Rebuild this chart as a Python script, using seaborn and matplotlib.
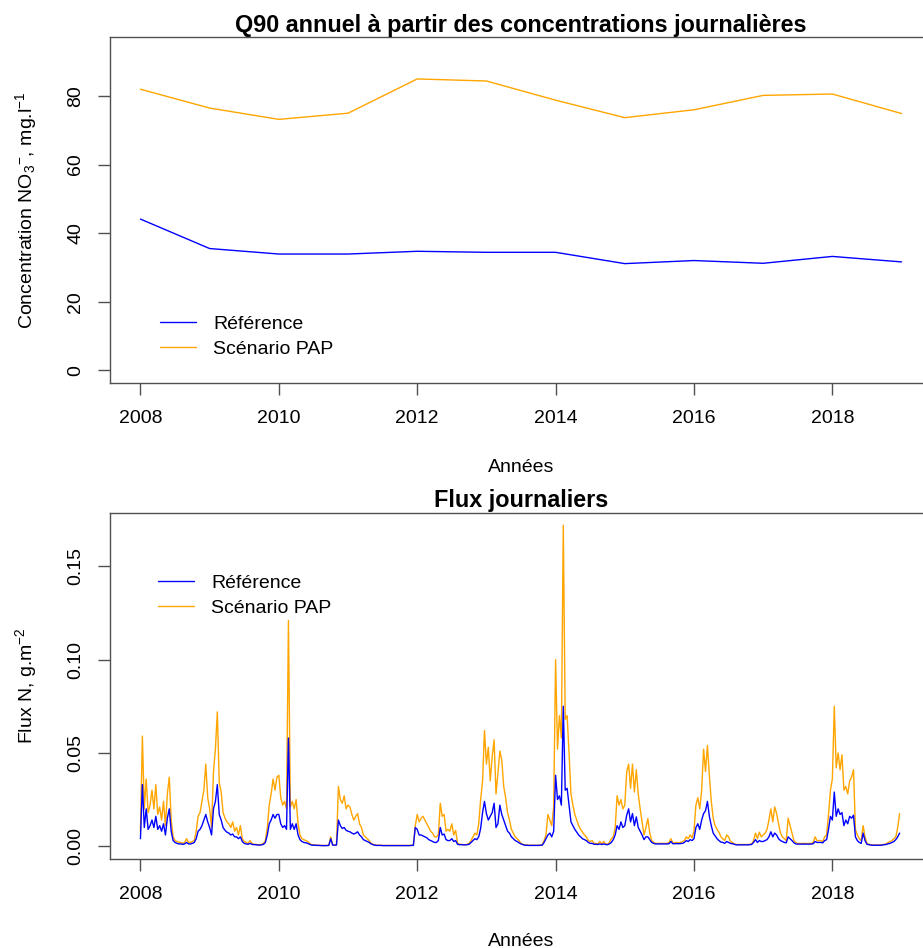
import matplotlib
matplotlib.use("Agg")
import matplotlib.pyplot as plt
import pandas as pd
import seaborn as sns

# ---- Annual Q90 of daily nitrate concentrations (mg/l) ----
years = list(range(2008, 2020))
q90_reference = [44.1, 35.5, 33.9, 33.9, 34.7, 34.4, 34.4, 31.1, 32.0, 31.2, 33.2, 31.6]
q90_pap = [82.0, 76.5, 73.2, 75.0, 85.0, 84.4, 78.8, 73.7, 76.0, 80.2, 80.6, 74.9]

# ---- Daily N flux (mg/m2, i.e. g/m2 x 1000), 36 readings per year ----
steps_per_year = 36
flux_years = list(range(2008, 2019))
flux_pap_mg = [
    # 2008
    8, 59, 20, 36, 18, 22, 30, 20, 33, 17, 21, 14, 24, 11, 28, 37, 14, 5, 3, 2.5, 2, 2, 1.5, 2, 4, 2, 2, 2.5, 3, 8, 16, 18, 24, 30, 44, 26,
    # 2009
    20, 10, 40, 52, 72, 34, 29, 18, 15, 13, 12, 10, 13, 8, 10, 6, 11, 4, 2.5, 2, 1.5, 3, 1.5, 1, 1, 0.8, 0.8, 1, 1.5, 3, 10, 22, 28, 36, 30, 37,
    # 2010
    38, 26, 22, 24, 20, 121, 21, 24, 20, 25, 12, 6, 4, 3.5, 3, 2.5, 1.5, 0.8, 0.7, 0.6, 0.5, 0.5, 0.4, 0.4, 0.4, 0.4, 0.5, 5, 0.8, 0.6, 0.8, 32, 25, 23, 27, 20,
    # 2011
    22, 21, 17, 14, 16, 17.5, 12, 10, 6, 5, 4, 3, 1.5, 1, 0.6, 0.5, 0.5, 0.5, 0.4, 0.4, 0.4, 0.4, 0.4, 0.4, 0.4, 0.4, 0.4, 0.4, 0.4, 0.4, 0.4, 0.4, 0.4, 0.5, 0.5, 11,
    # 2012
    17, 13, 15, 16, 14, 12, 10, 8, 7, 5, 5, 6, 23, 16, 17, 8, 9, 8, 12, 6, 8.5, 1.5, 1, 1, 0.8, 0.8, 1, 1.5, 3, 5, 7, 6, 12, 25, 35, 62,
    # 2013
    44, 53, 35, 48, 57, 28, 39, 51, 46, 32, 26, 18, 14, 9, 7, 5, 4, 3, 1.5, 1, 0.7, 0.6, 0.5, 0.5, 0.5, 0.5, 0.5, 0.5, 0.6, 0.7, 3, 6, 17, 14, 11, 21,
    # 2014
    100, 52, 70, 58, 172, 68, 70, 50, 28, 22, 17, 14, 11, 9, 7.5, 6, 5, 3, 2.5, 3, 1.5, 1.5, 1.2, 2.5, 1.2, 2.5, 1.2, 1, 2, 4, 5, 10, 27, 22, 25, 20,
    # 2015
    22, 40, 44, 31, 44, 29, 41, 28, 20, 13, 6, 10, 14.8, 7, 3, 2, 1.5, 1.5, 1.5, 1.5, 1.5, 1.5, 1.5, 2, 4, 1.8, 1.8, 2, 1.8, 2, 2.5, 3, 5, 4, 6, 4.5,
    # 2016
    8, 22, 26, 20, 30, 52, 40, 54, 38, 24, 15, 11, 9, 7.5, 5, 4, 3, 6, 5, 2.5, 2, 1.2, 0.9, 0.9, 0.9, 0.9, 0.9, 0.9, 0.9, 1, 1.2, 3, 7, 4, 7.5, 5,
    # 2017
    6, 7, 9, 14, 20, 13, 21, 17.5, 12, 7, 5, 4, 3, 15, 11, 7, 3, 1.8, 1.5, 1.5, 1.4, 1.5, 1.5, 1.4, 1.5, 1.5, 2, 5, 3, 3, 3, 2.5, 5, 6, 17, 30,
    # 2018
    36, 75, 42, 50, 41, 49, 30, 32, 28, 35, 37, 41, 9, 6, 4, 3, 11, 5, 1.5, 1, 0.8, 0.7, 0.6, 0.6, 0.6, 0.7, 0.8, 1, 1.2, 2, 2.5, 3, 4, 5, 10, 17.5,
]
flux_reference_mg = [
    # 2008
    4, 33, 10, 20, 9, 11, 14, 10, 16, 9, 11, 8, 12, 6, 15, 20, 8, 3, 2, 1.5, 1.2, 1.2, 1, 1.2, 2, 1.2, 1.2, 1.5, 2, 4, 8, 9, 11, 14, 17, 13,
    # 2009
    10, 6, 20, 24, 33, 17, 14, 10, 8.5, 7.5, 7, 6, 6.5, 5, 5, 4, 5, 2.5, 1.5, 1.2, 1, 1.5, 1, 0.8, 0.8, 0.6, 0.6, 0.7, 1, 2, 6, 12, 14, 17, 15, 17,
    # 2010
    17, 12, 10, 11, 9, 58, 9, 12, 9, 12, 6, 3.5, 2.5, 2, 1.8, 1.5, 1, 0.6, 0.5, 0.5, 0.4, 0.4, 0.3, 0.3, 0.3, 0.3, 0.4, 4, 0.6, 0.5, 0.6, 14, 11, 9.5, 10, 8.5,
    # 2011
    8, 7.7, 7, 6.5, 7, 7.7, 6, 5, 3.5, 3, 2.5, 2, 1.2, 0.8, 0.5, 0.4, 0.4, 0.4, 0.3, 0.3, 0.3, 0.3, 0.3, 0.3, 0.3, 0.3, 0.3, 0.3, 0.3, 0.3, 0.3, 0.3, 0.3, 0.4, 0.4, 10,
    # 2012
    9, 6, 6, 5.5, 5, 4.5, 3.5, 3, 2.5, 2, 2, 3, 10, 6, 6.5, 3.5, 3, 3, 4, 2.5, 3, 1, 0.8, 0.8, 0.7, 0.7, 0.8, 1, 2, 3, 4, 3.5, 5, 9.5, 18, 24,
    # 2013
    17.5, 14, 16, 18, 23, 10, 12, 22, 17, 14, 11, 8, 7, 5, 4, 3, 2.5, 1.8, 1.2, 0.8, 0.5, 0.5, 0.4, 0.4, 0.4, 0.4, 0.4, 0.4, 0.5, 0.5, 2, 4, 6, 7, 5, 8,
    # 2014
    38, 25, 27, 22, 75, 30, 31, 22, 13, 11, 9, 7.5, 6, 5, 4, 3.5, 3, 2, 1.5, 1.5, 1, 1, 0.9, 1.2, 0.9, 1.2, 0.9, 0.8, 1.2, 2, 3.5, 6, 11, 9, 13, 10,
    # 2015
    11, 16.6, 20, 13, 17.5, 11, 15.7, 10, 8, 6, 3.5, 5, 5, 3.5, 2, 1.5, 1.2, 1.2, 1.2, 1.2, 1.2, 1.2, 1.2, 1.3, 2.5, 1.3, 1.3, 1.4, 1.3, 1.4, 1.5, 2, 3, 2.5, 3.5, 3,
    # 2016
    4, 10, 12, 9, 14, 17.5, 19, 24, 16, 11, 7, 5.5, 4, 3, 2.2, 2, 1.5, 2.5, 2, 1.5, 1.3, 1, 0.7, 0.7, 0.7, 0.7, 0.7, 0.7, 0.7, 0.8, 0.9, 2, 3.5, 2, 3, 2.5,
    # 2017
    2.5, 3, 3.5, 5, 7.7, 5, 7, 6, 4, 3, 2.5, 2, 1.8, 5, 4, 3, 1.8, 1.2, 1.1, 1.1, 1.1, 1.1, 1.1, 1.1, 1.1, 1.1, 1.3, 2.5, 2, 2, 2, 1.8, 3, 3.5, 9, 16,
    # 2018
    14, 29, 16, 20, 17, 18, 11, 14, 12, 16, 15, 16.6, 5, 3, 2, 1.5, 7, 3, 1, 0.8, 0.6, 0.5, 0.5, 0.5, 0.5, 0.5, 0.6, 0.8, 0.9, 1.3, 1.5, 2, 2.5, 3.5, 5, 7,
]

legend_labels = ["Référence", "Scénario PAP"]
line_colors = ["blue", "orange"]

# ---- tables ----
q90 = pd.DataFrame({"annee": years, "ref": q90_reference, "pap": q90_pap})
flux_time = [y + k / steps_per_year for y in flux_years for k in range(steps_per_year)]
flux = pd.DataFrame({
    "t": flux_time,
    "ref": [v / 1000 for v in flux_reference_mg],
    "pap": [v / 1000 for v in flux_pap_mg],
})

# ---- style ----
sns.set_theme(style="ticks")
plt.rcParams["font.family"] = ["Liberation Sans", "DejaVu Sans"]
plt.rcParams["mathtext.fontset"] = "custom"
plt.rcParams["mathtext.rm"] = "Liberation Sans"
plt.rcParams["mathtext.it"] = "Liberation Sans:italic"
plt.rcParams["mathtext.bf"] = "Liberation Sans:bold"
plt.rcParams["text.color"] = "black"
plt.rcParams["axes.labelcolor"] = "black"
plt.rcParams["axes.titlecolor"] = "black"

W, H = 923, 948
fig = plt.figure(figsize=(W / 100, H / 100), dpi=100)
ax1 = fig.add_axes([110 / W, 1 - 383 / H, 822 / W, 346 / H])
ax2 = fig.add_axes([110 / W, 1 - 859 / H, 822 / W, 346.5 / H])

frame_color = "#505050"


def r_like_axes(ax, yticks, yticklabels):
    for s in ax.spines.values():
        s.set_color(frame_color)
        s.set_linewidth(1.0)
    ax.set_xticks(range(2008, 2019, 2))
    ax.set_xticklabels([str(y) for y in range(2008, 2019, 2)])
    ax.set_yticks(yticks)
    ax.set_yticklabels(yticklabels, rotation=90, va="center")
    ax.tick_params(axis="both", direction="out", length=8.6, width=1.0,
                   color=frame_color, labelsize=14, labelcolor="black")
    ax.tick_params(axis="x", pad=11)
    ax.tick_params(axis="y", pad=10)
    # R-style 4% padding around the year range
    x0, x1 = 2008, 2019
    pad = 0.04 * (x1 - x0)
    ax.set_xlim(x0 - pad, x1 + pad)
    ax.grid(False)


def r_legend(ax, anchor):
    handles, labels = ax.get_legend_handles_labels()
    order = [labels.index(l) for l in legend_labels]
    ax.legend([handles[i] for i in order], [labels[i] for i in order],
              loc="upper left", bbox_to_anchor=anchor, frameon=False,
              fontsize=14, handlelength=1.86, handletextpad=0.88,
              labelspacing=0.4, borderpad=0, borderaxespad=0)


# ---- top: annual Q90 ----
sns.lineplot(data=q90, x="annee", y="ref", ax=ax1, color=line_colors[0],
             lw=1.0, label=legend_labels[0], estimator=None)
sns.lineplot(data=q90, x="annee", y="pap", ax=ax1, color=line_colors[1],
             lw=1.0, label=legend_labels[1], estimator=None)
top_hi = 1.1 * max(q90_pap)
ax1.set_ylim(-0.04 * top_hi, top_hi * 1.04)
r_like_axes(ax1, [0, 20, 40, 60, 80], ["0", "20", "40", "60", "80"])
ax1.set_title("Q90 annuel à partir des concentrations journalières",
              fontsize=16.8, fontweight="bold", pad=2.7)
ax1.set_xlabel("Années", fontsize=14)
ax1.set_ylabel(r"Concentration $\mathrm{NO}_3{}^{-}$, mg.l$^{-1}$", fontsize=14)
r_legend(ax1, (50 / 822, 68 / 346))

# ---- bottom: daily flux ----
sns.lineplot(data=flux, x="t", y="pap", ax=ax2, color=line_colors[1],
             lw=1.0, label=legend_labels[1], estimator=None)
sns.lineplot(data=flux, x="t", y="ref", ax=ax2, color=line_colors[0],
             lw=1.0, label=legend_labels[0], estimator=None)
lo, hi = 0.0, max(flux["pap"].max(), flux["ref"].max())
ax2.set_ylim(lo - 0.04 * (hi - lo), hi + 0.04 * (hi - lo))
r_like_axes(ax2, [0, 0.05, 0.10, 0.15], ["0.00", "0.05", "0.10", "0.15"])
ax2.set_title("Flux journaliers", fontsize=16.8, fontweight="bold", pad=2.2)
ax2.set_xlabel("Années", fontsize=14)
ax2.set_ylabel(r"Flux N, g.m$^{-2}$", fontsize=14)
r_legend(ax2, (48 / 822, 285 / 346.5))

for ax, h, off in ((ax1, 346, 89.0), (ax2, 346.5, 86.5)):
    ax.xaxis.set_label_coords(0.5, -off / h)
    ax.xaxis.label.set_va("baseline")
    ax.yaxis.set_label_coords(-84.0 / 822, 0.5)
    ax.yaxis.label.set_va("center")

fig.savefig("out.png", dpi=100, facecolor="white")
